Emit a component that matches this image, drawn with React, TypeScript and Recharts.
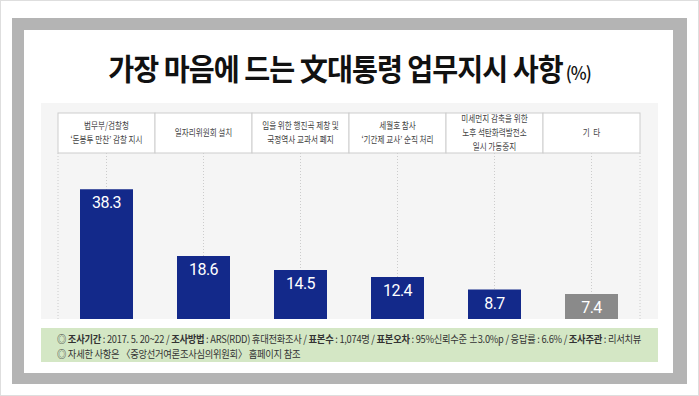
import { BarChart, Bar, XAxis, YAxis, CartesianGrid, Cell, LabelList } from "recharts";

const categories = [
  "법무부/검찰청\n‘돈봉투 만찬’ 감찰 지시",
  "일자리위원회 설치",
  "임을 위한 행진곡 제창 및\n국정역사 교과서 폐지",
  "세월호 참사\n‘기간제 교사’ 순직 처리",
  "미세먼지 감축을 위한\n노후 석탄화력발전소\n일시 가동중지",
  "기\u00a0\u00a0타",
];
const values = [38.3, 18.6, 14.5, 12.4, 8.7, 7.4];
const barColors = ["#13298a", "#13298a", "#13298a", "#13298a", "#13298a", "#8a8a8a"];

const data = categories.map((name, i) => ({ name, value: values[i] }));

const KR = "'Noto Sans CJK KR', 'Noto Sans', sans-serif";
const BAND = 97;
const BOX_H = 40;
const LINE = 14;

// header cell: white box with the category text, lines as tspans in one text
const HeaderTick = (props: any) => {
  const { x, y, payload } = props;
  const lines = String(payload.value).split("\n");
  const firstY = y - BOX_H / 2 - ((lines.length - 1) / 2) * LINE + 3.5;
  return (
    <g>
      <rect x={x - BAND / 2} y={y - BOX_H} width={BAND} height={BOX_H} fill="#fff" stroke="#cdcdcd" />
      <g transform={`translate(${x},0) scale(0.8,1)`}>
        <text x={0} y={firstY} textAnchor="middle" fontSize={9.5} fontFamily={KR} fill="#444">
          {lines.map((l, i) => (
            <tspan key={i} x={0} dy={i === 0 ? 0 : LINE}>
              {l}
            </tspan>
          ))}
        </text>
      </g>
    </g>
  );
};

const ValueLabel = (props: any) => {
  const { x, y, width, value } = props;
  return (
    <text
      x={x + width / 2}
      y={y + 19}
      textAnchor="middle"
      fill="#fff"
      fontSize={16}
      fontFamily="Roboto, sans-serif"
      letterSpacing={-0.6}
    >
      {value}
    </text>
  );
};

export default function App() {
  return (
    <div style={{ position: "fixed", left: 0, top: 0, width: 699, height: 396, background: "#fff", boxSizing: "border-box", border: "1px solid #dedede", overflow: "hidden" }}>
      <div style={{ position: "absolute", left: 11, top: 17, width: 675, height: 366, background: "#b4b4b4" }} />
      <div style={{ position: "absolute", left: 23, top: 29, width: 649, height: 343, background: "#fff" }} />
      <div style={{ position: "absolute", left: 40, top: 102, width: 617, height: 216, background: "#f5f5f5" }} />
      <div style={{ position: "absolute", left: 40, top: 327, width: 617, height: 34, background: "#d4e7c5" }} />

      <div
        style={{
          position: "absolute",
          left: 0,
          top: 49,
          width: 697,
          textAlign: "center",
          fontFamily: KR,
          fontWeight: 700,
          fontSize: 30,
          lineHeight: "34px",
          color: "#111",
          whiteSpace: "nowrap",
          transform: "scaleX(0.94)",
          letterSpacing: -1,
        }}
      >
        가장 마음에 드는 文대통령 업무지시 사항
        <span style={{ fontSize: 18, fontWeight: 500, marginLeft: 3 }}>(%)</span>
      </div>

      <div style={{ position: "absolute", left: -1, top: -1 }}>
        <BarChart width={699} height={396} data={data} margin={{ top: 113, right: 59, left: 58, bottom: 77 }}>
          <CartesianGrid vertical horizontal={false} stroke="#cccccc" strokeDasharray="1 2" />
          <XAxis
            dataKey="name"
            orientation="top"
            height={BOX_H}
            axisLine={false}
            tickLine={false}
            tickSize={0}
            tickMargin={0}
            interval={0}
            tick={<HeaderTick />}
          />
          <YAxis hide domain={[0, 49]} />
          <Bar dataKey="value" barSize={53} isAnimationActive={false}>
            {data.map((d, i) => (
              <Cell key={i} fill={barColors[i]} />
            ))}
            <LabelList dataKey="value" content={<ValueLabel />} />
          </Bar>
        </BarChart>
      </div>

      <div
        style={{
          position: "absolute",
          left: 56,
          top: 330,
          fontFamily: KR,
          fontSize: 10.5,
          lineHeight: "15px",
          color: "#333",
          whiteSpace: "nowrap",
          transform: "scaleX(0.885)",
          transformOrigin: "left top",
          letterSpacing: -0.3,
        }}
      >
        <div>
          ◎ <b>조사기간</b> : 2017. 5. 20~22 / <b>조사방법</b> : ARS(RDD) 휴대전화조사 / <b>표본수</b> : 1,074명 / <b>표본오차</b> : 95%신뢰수준 ±3.0%p / 응답률 : 6.6% / <b>조사주관</b> : 리서치뷰
        </div>
        <div>◎ 자세한 사항은 〈중앙선거여론조사심의위원회〉 홈페이지 참조</div>
      </div>
    </div>
  );
}
